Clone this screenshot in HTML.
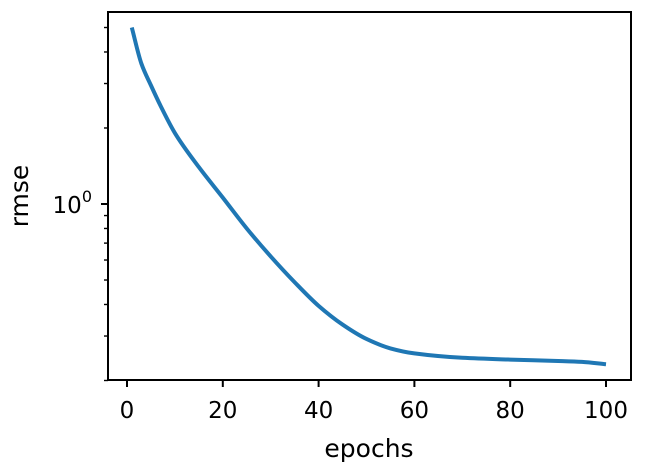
<!DOCTYPE html>
<html><head><meta charset="utf-8"><style>
body{margin:0;background:#fff;}
svg{display:block;font-family:"DejaVu Sans","Liberation Sans",sans-serif;}
</style></head><body>
<svg width="645" height="473" viewBox="0 0 645 473">
<rect x="0" y="0" width="645" height="473" fill="#fff"/>
<g id="ticks"></g>
<path id="line" fill="none" stroke="#1f77b4" stroke-width="4" stroke-linejoin="round" stroke-linecap="butt"/>
<rect x="108" y="12" width="523" height="368" fill="none" stroke="#000" stroke-width="2"/>
<text x="369" y="457" font-size="25" text-anchor="middle">epochs</text>
<text transform="translate(28,196) rotate(-90)" font-size="25" text-anchor="middle">rmse</text>
</svg>
<script>
const epochs=[1,3,5,7,10,15,20,25,30,35,40,45,50,55,60,70,80,90,95,100];
const rmse=[5.0,3.6,2.95,2.45,1.91,1.4,1.06,0.80,0.62,0.49,0.395,0.333,0.292,0.268,0.256,0.246,0.242,0.239,0.237,0.232];
const xTicks=[0,20,40,60,80,100];
const yMinor=[0.2,0.3,0.4,0.5,0.6,0.7,0.8,0.9,2,3,4,5];
const NS="http://www.w3.org/2000/svg";
function xs(v){return 127+v*4.79;}
function ys(v){return 204-Math.log10(v)*252.5;}
const g=document.getElementById('ticks');
function mk(t,a){const e=document.createElementNS(NS,t);for(const k in a)e.setAttribute(k,a[k]);g.appendChild(e);return e;}
xTicks.forEach(t=>{
  const l=mk('line',{x1:xs(t),x2:xs(t),y1:380,y2:387,stroke:'#000','stroke-width':2});
  
  
  const tx=mk('text',{x:xs(t),y:418,'font-size':23,'text-anchor':'middle'});
  tx.textContent=t;
  
  
});
yMinor.forEach(v=>{
  const l=mk('line',{x1:104,x2:108,y1:ys(v),y2:ys(v),stroke:'#000','stroke-width':1.4});
  
  
});
const mj=mk('line',{x1:101,x2:108,y1:ys(1),y2:ys(1),stroke:'#000','stroke-width':2});


const yl=mk('text',{x:92,y:ys(1)+9,'font-size':23,'text-anchor':'end'});
yl.innerHTML='10<tspan dy="-11" font-size="16">0</tspan>';


// monotone cubic (Fritsch-Carlson)
const P=epochs.map((e,i)=>[xs(e),ys(rmse[i])]);
const n=P.length, dl=[], m=[];
for(let i=0;i<n-1;i++) dl.push((P[i+1][1]-P[i][1])/(P[i+1][0]-P[i][0]));
m[0]=dl[0]; m[n-1]=dl[n-2];
for(let i=1;i<n-1;i++){
  if(dl[i-1]*dl[i]<=0){m[i]=0;continue;}
  const h0=P[i][0]-P[i-1][0],h1=P[i+1][0]-P[i][0];
  const w1=2*h1+h0,w2=h1+2*h0;
  m[i]=(w1+w2)/(w1/dl[i-1]+w2/dl[i]);
}
let d='M'+P[0][0]+','+P[0][1];
for(let i=0;i<n-1;i++){
  const h=(P[i+1][0]-P[i][0])/3;
  d+=' C'+(P[i][0]+h)+','+(P[i][1]+m[i]*h)+' '+(P[i+1][0]-h)+','+(P[i+1][1]-m[i+1]*h)+' '+P[i+1][0]+','+P[i+1][1];
}
document.getElementById('line').setAttribute('d',d);
</script>
</body></html>
